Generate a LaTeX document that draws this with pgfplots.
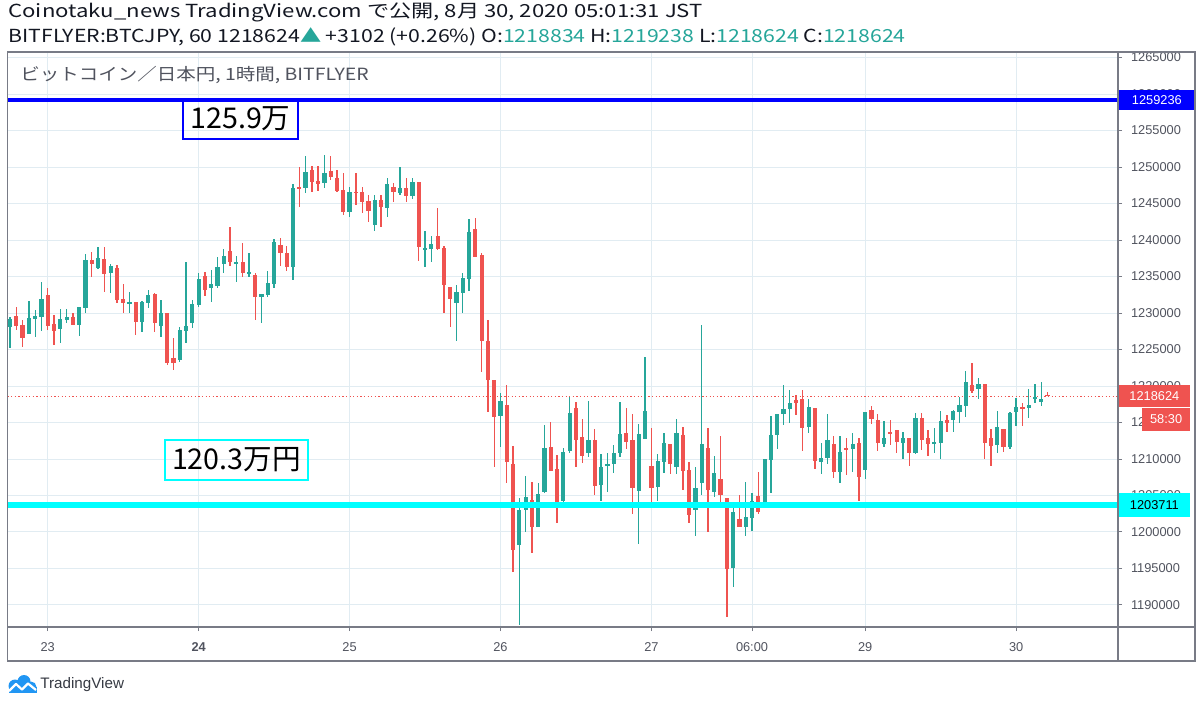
\documentclass[border=0pt]{standalone}
\usepackage{pgfplots}
\pgfplotsset{compat=1.18}
\usepackage{pgfplotstable}
\usepackage{graphicx}
\usepackage{fontspec}
\setmainfont{Liberation Sans}
\newfontfamily\cjk{Noto Sans CJK JP}
\definecolor{tvgreen}{RGB}{38,166,154}
\definecolor{tvred}{RGB}{239,83,80}
\definecolor{gridc}{RGB}{225,236,242}
\definecolor{framec}{RGB}{120,123,134}
\definecolor{labc}{RGB}{80,83,94}
\definecolor{tvblue}{RGB}{33,150,243}
\definecolor{hblue}{RGB}{0,0,255}
\definecolor{hcyan}{RGB}{0,255,255}
\definecolor{hdr}{RGB}{19,23,34}

% bullish candles: t open high low close
\pgfplotstableread{
t o h l c
0 1228037 1229407 1225206 1229133
3 1227078 1231645 1227078 1229270
4 1229225 1230412 1226667 1229590
5 1229499 1234248 1227581 1231919
8 1227855 1230595 1225845 1229133
9 1229042 1230595 1228677 1229407
11 1228357 1230778 1226850 1230778
12 1230641 1238039 1230047 1237263
14 1236121 1238998 1235984 1237537
16 1235436 1236669 1232696 1236441
19 1231326 1232833 1229955 1231554
21 1228722 1231645 1227398 1231554
22 1231326 1233152 1230641 1232467
24 1228219 1231781 1226666 1229955
27 1223561 1228036 1223332 1227671
28 1227580 1237033 1225936 1228265
29 1228676 1231781 1227899 1231233
30 1231096 1235526 1230868 1234613
32 1233471 1235892 1231462 1233928
33 1233700 1237718 1233380 1236348
34 1236714 1238769 1235435 1237856
36 1236805 1237856 1234293 1237033
38 1235435 1238175 1234978 1235572
40 1232238 1232558 1228584 1232558
41 1232466 1235755 1232147 1234065
42 1233974 1240185 1233380 1239682
45 1236257 1247629 1234522 1247081
47 1247081 1251511 1246396 1249273
50 1247766 1251602 1247081 1249136
54 1243884 1247309 1243108 1246624
58 1242057 1246167 1241281 1245482
60 1244386 1248542 1243108 1247675
62 1246396 1250049 1246167 1247081
64 1246030 1248451 1245574 1247903
66 1238632 1241235 1236348 1238906
67 1238770 1240551 1236943 1239409
71 1231325 1233837 1226210 1232924
72 1232787 1235436 1230047 1234751
73 1234659 1242880 1233015 1241144
78 1215889 1218994 1211687 1217944
81 1198215 1204608 1187258 1203010
82 1203010 1207668 1200041 1204837
84 1200635 1206663 1200635 1205202
85 1205522 1214656 1205385 1211459
88 1204290 1211461 1204153 1211004
89 1211141 1218448 1210867 1216256
92 1210776 1217946 1210228 1212602
94 1206437 1210684 1204290 1208949
95 1209086 1210776 1205432 1209314
96 1209268 1211917 1208035 1210776
97 1210776 1217763 1210228 1213424
100 1205661 1214749 1198353 1213424
101 1212694 1223974 1212694 1216576
103 1206117 1210684 1204290 1209771
104 1209634 1213516 1208035 1212146
106 1208948 1215479 1207943 1213606
109 1203011 1208857 1199494 1205980
110 1206756 1228358 1205066 1212008
112 1205523 1210410 1204746 1208035
115 1195019 1204153 1192507 1202783
117 1200727 1206893 1199449 1202006
118 1201961 1205386 1200179 1204290
120 1204016 1209999 1204016 1209999
121 1209861 1215890 1205386 1213287
122 1213287 1216118 1211323 1216118
123 1216164 1220092 1214657 1216895
124 1216849 1219452 1214885 1217717
127 1214338 1218174 1213516 1217078
129 1209542 1212146 1207944 1210090
130 1210090 1216119 1209268 1212602
132 1208264 1213150 1206665 1211004
134 1211369 1213607 1208264 1212054
136 1208492 1216393 1207213 1216393
139 1212054 1215251 1211689 1212922
142 1212237 1213653 1209999 1212922
144 1210775 1216256 1210684 1215571
147 1212054 1214201 1210775 1212374
148 1212237 1216575 1209953 1215251
150 1215342 1216712 1213744 1216575
151 1216484 1218448 1214886 1217397
152 1217306 1222101 1215708 1220503
154 1219544 1221051 1218174 1220229
157 1211917 1216575 1210775 1214429
159 1211689 1216484 1211369 1216347
160 1216484 1218402 1214520 1217078
162 1216941 1219544 1215571 1217397
163 1218220 1220229 1217626 1218539
164 1217763 1220503 1217306 1218220
}\bull

% bearish candles: t open high low close
\pgfplotstableread{
t o h l c
1 1229590 1230778 1227672 1228220
2 1228311 1229042 1225388 1226576
6 1232422 1233381 1227672 1228220
7 1228448 1229727 1225571 1227581
10 1229407 1229955 1228357 1228357
13 1237217 1238404 1234979 1236760
15 1237400 1238998 1232924 1235345
17 1236212 1236623 1231326 1231782
18 1231919 1233974 1230047 1231326
20 1231508 1231508 1227033 1228722
23 1232603 1232786 1227443 1228676
25 1229955 1229955 1222876 1223195
26 1223789 1226529 1222191 1223104
31 1235070 1235618 1232329 1233151
35 1238495 1241829 1236440 1236942
37 1237033 1239545 1234978 1235526
39 1235207 1235526 1229041 1232238
43 1239317 1240230 1236440 1238175
44 1238175 1239180 1235800 1236348
46 1247264 1249958 1244569 1246990
48 1249593 1250141 1246533 1247994
49 1248131 1250141 1246715 1247675
51 1249410 1251511 1248223 1248588
52 1248451 1249593 1246624 1246715
53 1246852 1249136 1243427 1243793
55 1246624 1249136 1244797 1246487
56 1246624 1247309 1243656 1245163
57 1245345 1246167 1242423 1244021
59 1245482 1246167 1241737 1244569
61 1247309 1247766 1245163 1246624
63 1247081 1248451 1245254 1246030
65 1247903 1247994 1237079 1239089
68 1240551 1244341 1238632 1238724
69 1238861 1239181 1229955 1233837
70 1233517 1233517 1228037 1231873
74 1241510 1242971 1237628 1237719
75 1237947 1238176 1221963 1226210
76 1226210 1229042 1216483 1220821
77 1220821 1220821 1208947 1215797
79 1217396 1220136 1206755 1209541
80 1209312 1211779 1194561 1197529
83 1204380 1206892 1197164 1200635
86 1211689 1215114 1208401 1208401
87 1208583 1210547 1201276 1204016
90 1216941 1217763 1208857 1212602
91 1212968 1215480 1209405 1210410
93 1212602 1214110 1205067 1206346
98 1213516 1216941 1211369 1212374
99 1212602 1216119 1202464 1205980
102 1209040 1214292 1204153 1206072
105 1212008 1212008 1208035 1209268
107 1213287 1214337 1205751 1208400
108 1208491 1209633 1201184 1202326
111 1211460 1214200 1199951 1205751
113 1207213 1213150 1204153 1205066
114 1204701 1204701 1188397 1194927
116 1201732 1205066 1200636 1200636
119 1204929 1208172 1202463 1202783
125 1218082 1218767 1215981 1217717
126 1218174 1219453 1211095 1214201
128 1216941 1216941 1208675 1209771
131 1212009 1213150 1207442 1208264
133 1211461 1212831 1207807 1211232
135 1212146 1212922 1204290 1207579
137 1216713 1217306 1214794 1215480
138 1215342 1216165 1211141 1212237
140 1213653 1215342 1211917 1213379
141 1213972 1213972 1210867 1212374
143 1212831 1212831 1209086 1210775
145 1215571 1216256 1211232 1212602
146 1212830 1213972 1210410 1212008
149 1215342 1216027 1213744 1214977
153 1220092 1223198 1218996 1219361
155 1220229 1220229 1209953 1212145
156 1212830 1214109 1209040 1211826
158 1214109 1214109 1211004 1211689
161 1217078 1217717 1214520 1216804
165 1218834 1219238 1218624 1218624
}\bear

\begin{document}
\begin{tikzpicture}
\begin{scope}[x=0.5pt,y=-0.5pt]
\path[use as bounding box, fill=white] (0,0) rectangle (1200,706);
\end{scope}

\begin{axis}[
  at={(3.75pt,-313.5pt)}, anchor=south west,
  scale only axis, width=555.25pt, height=287.5pt,
  xmin=-0.4, xmax=176.2, ymin=1186984, ymax=1265759,
  clip mode=individual,
  scaled y ticks=false,
  axis line style={draw=framec, line width=0.6pt},
  xmajorgrids, ymajorgrids,
  major grid style={draw=gridc, line width=0.5pt},
  tick align=outside, xtick pos=bottom, ytick pos=right, yticklabel pos=right,
  major tick length=2pt,
  tick style={draw=framec, line width=0.5pt},
  xtick={6,30,54,78,102,118,136,160},
  xticklabels={23,\textbf{24},25,26,27,06:00,29,30},
  ytick={1190000,1195000,1200000,1205000,1210000,1215000,1220000,1225000,1230000,1235000,1240000,1245000,1250000,1255000,1260000,1265000},
  yticklabels={1190000,1195000,1200000,1205000,1210000,1215000,1220000,1225000,1230000,1235000,1240000,1245000,1250000,1255000,1260000,1265000},
  ticklabel style={font=\fontsize{6.4}{7}\selectfont, text=labc},
  xticklabel style={yshift=-2pt},
  yticklabel style={xshift=1pt},
]
% last price line
\addplot[forget plot, tvred, line width=0.5pt, dash pattern=on 0.6pt off 1.2pt] coordinates {(-0.4,1218624) (176.2,1218624)};
% wicks
\addplot[forget plot, draw=none, mark=none,
  error bars/.cd, y dir=both, y explicit, error mark=none,
  error bar style={draw=tvgreen, line width=0.65pt}]
  table[x=t, y expr={(\thisrow{h}+\thisrow{l})/2}, y error expr={(\thisrow{h}-\thisrow{l})/2}] {\bull};
\addplot[forget plot, draw=none, mark=none,
  error bars/.cd, y dir=both, y explicit, error mark=none,
  error bar style={draw=tvred, line width=0.65pt}]
  table[x=t, y expr={(\thisrow{h}+\thisrow{l})/2}, y error expr={(\thisrow{h}-\thisrow{l})/2}] {\bear};
% bodies
\addplot[forget plot, draw=none, mark=none,
  error bars/.cd, y dir=both, y explicit, error mark=none,
  error bar style={draw=tvgreen, line width=2.1pt}]
  table[x=t, y expr={(\thisrow{o}+\thisrow{c})/2}, y error expr={max(abs(\thisrow{c}-\thisrow{o})/2,75)}] {\bull};
\addplot[forget plot, draw=none, mark=none,
  error bars/.cd, y dir=both, y explicit, error mark=none,
  error bar style={draw=tvred, line width=2.1pt}]
  table[x=t, y expr={(\thisrow{o}+\thisrow{c})/2}, y error expr={max(abs(\thisrow{c}-\thisrow{o})/2,75)}] {\bear};
% horizontal levels
\addplot[forget plot, hblue, line width=2pt] coordinates {(-0.4,1259236) (176.2,1259236)};
\addplot[forget plot, hcyan, line width=3pt] coordinates {(-0.4,1203711) (176.2,1203711)};
% annotations
\node[draw=hblue, line width=0.75pt, minimum width=57.5pt, minimum height=20pt, inner sep=0pt, font=\cjk\fontsize{14.3}{16}\selectfont] at (axis cs:36.65,1256580) {125.9万};
\node[draw=hcyan, line width=0.75pt, minimum width=71.5pt, minimum height=20pt, inner sep=0pt, font=\cjk\fontsize{14.3}{16}\selectfont] at (axis cs:36.0,1209863) {120.3万円};
% price scale labels
\node[fill=hblue, text=white, anchor=west, minimum width=38.5pt, minimum height=10pt, inner sep=0pt, font=\fontsize{6.4}{7}\selectfont] at (axis cs:176.2,1259236) {1259236};
\node[fill=tvred, text=white, anchor=west, minimum width=36pt, minimum height=11pt, inner sep=0pt, font=\fontsize{6.4}{7}\selectfont] at (axis cs:176.2,1218624) {1218624};
\node[fill=tvred, text=white, anchor=west, minimum width=24pt, minimum height=11.5pt, inner sep=0pt, font=\fontsize{6.4}{7}\selectfont] at (axis cs:179.97,1215412) {58:30};
\node[fill=hcyan, text=black, anchor=west, minimum width=36pt, minimum height=12pt, inner sep=0pt, font=\fontsize{6.4}{7}\selectfont] at (axis cs:176.2,1203711) {1203711};
\end{axis}

\begin{scope}[x=0.5pt,y=-0.5pt]
% outer frame
\draw[framec, line width=0.6pt] (7.5,52) rectangle (1195,661);
\draw[framec, line width=0.6pt] (1118,52) -- (1118,661);
\draw[framec, line width=0.6pt] (7.5,627) -- (1195,627);
% header
\node[anchor=west, inner sep=0pt, text=hdr, font=\cjk\fontsize{9}{10}\selectfont] at (8,12) {\scalebox{1.23}[1]{Coinotaku\_news TradingView.com で公開, 8月 30, 2020 05:01:31 JST}};
\node[anchor=west, inner sep=0pt, text=hdr, font=\cjk\fontsize{9}{10}\selectfont] at (8,37) {\scalebox{1.18}[1]{BITFLYER:BTCJPY, 60 1218624\textcolor{tvgreen}{▲} +3102 (+0.26\%) O:\textcolor{tvgreen}{1218834} H:\textcolor{tvgreen}{1219238} L:\textcolor{tvgreen}{1218624} C:\textcolor{tvgreen}{1218624}}};
% pane title
\node[anchor=west, inner sep=0pt, text=labc, font=\cjk\fontsize{8.4}{9}\selectfont] at (20,75) {\scalebox{1.16}[1]{ビットコイン／日本円, 1時間, BITFLYER}};
% TradingView logo
\fill[tvblue] (15,686) circle (6.5);
\fill[tvblue] (24,681.5) circle (6.5);
\fill[tvblue] (31,687) circle (5.5);
\fill[tvblue] (8.5,687) rectangle (36.5,692.5);
\draw[white, line width=1.1pt, line join=round] (9,691) -- (16,684) -- (22,689.5) -- (28,683.5) -- (36,690);
\node[anchor=west, inner sep=0pt, text=hdr!85, font=\fontsize{7.6}{9}\selectfont] at (40,685) {TradingView};
\end{scope}
\end{tikzpicture}
\end{document}
